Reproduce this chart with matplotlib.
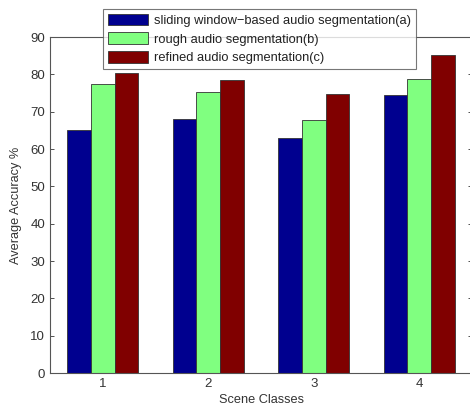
import numpy as np
import matplotlib.pyplot as plt

plt.rcParams['font.family'] = ['Liberation Sans', 'DejaVu Sans']

# Average accuracy per scene class for the three segmentation methods
classes = [1, 2, 3, 4]
acc_sliding = [65.0, 68.0, 63.0, 74.5]
acc_rough = [77.4, 75.3, 67.8, 78.8]
acc_refined = [80.3, 78.5, 74.7, 85.2]
labels = ["sliding window\u2212based audio segmentation(a)",
          "rough audio segmentation(b)",
          "refined audio segmentation(c)"]
colors = ['#00008F', '#80FF80', '#800000']

fig = plt.figure(figsize=(4.70, 4.07), dpi=100)
ax = fig.add_axes([0.1064, 0.0835, 0.898, 0.8255])

x = np.array(classes, dtype=float)
w = 0.225
for k, (vals, c, lab) in enumerate(zip([acc_sliding, acc_rough, acc_refined], colors, labels)):
    ax.bar(x + (k - 1) * w, vals, width=w, color=c, edgecolor='#333333',
           linewidth=0.6, label=lab, zorder=2)

ax.set_xlim(0.5, 4.5)
ax.set_ylim(0, 90)
ax.set_xticks(classes)
ax.set_yticks(np.arange(0, 91, 10))
ax.tick_params(direction='in', length=3, width=0.6, labelsize=9.5,
               colors='#333333', top=False, right=True)
for s in ax.spines.values():
    s.set_color('#555555')
    s.set_linewidth(0.8)

ax.set_xlabel("Scene Classes", fontsize=9.2, color='#333333', labelpad=3)
ax.set_ylabel("Average Accuracy %", fontsize=9.2, color='#333333', labelpad=6)

leg = ax.legend(loc='upper left', bbox_to_anchor=(0.219, 0.978),
                bbox_transform=fig.transFigure, borderaxespad=0,
                fancybox=False, fontsize=9.3, handlelength=3.1, handleheight=1.0,
                labelspacing=0.42, handletextpad=0.5, borderpad=0.38)
leg.get_frame().set_edgecolor('#555555')
leg.get_frame().set_linewidth(0.8)
for t in leg.get_texts():
    t.set_color('#222222')

fig.savefig("out.png", dpi=100)
